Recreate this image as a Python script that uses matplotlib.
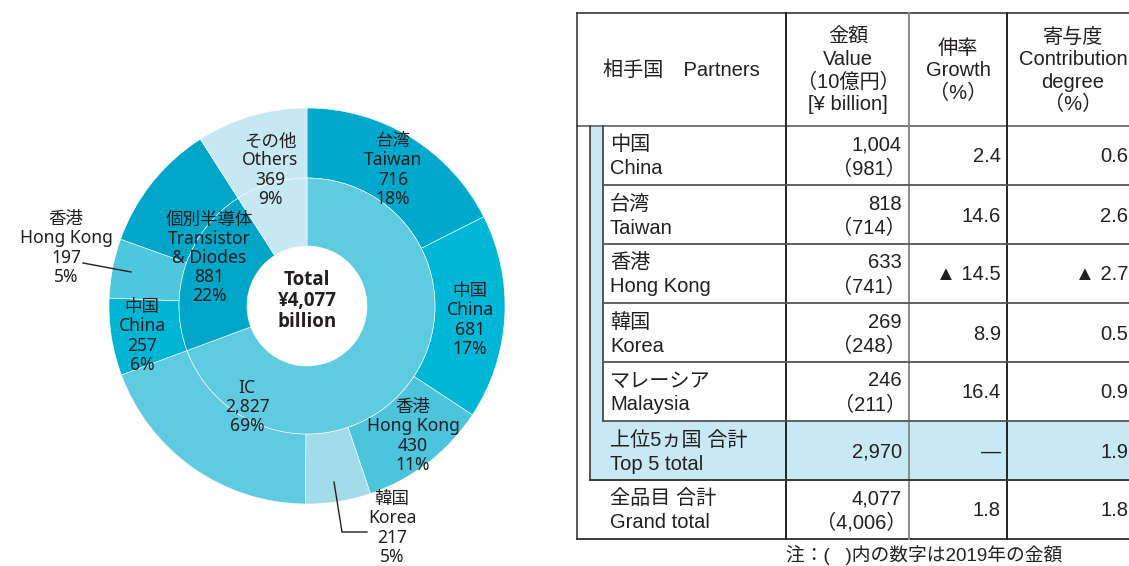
import matplotlib.pyplot as plt
from matplotlib.patches import Rectangle

plt.rcParams['font.family'] = ['Noto Sans', 'Noto Sans CJK JP', 'DejaVu Sans']
TABLE_FONT = ['Liberation Sans', 'Noto Sans CJK JP', 'DejaVu Sans']
INK = '#231F20'

# donut data (10 billion yen units, 2020)
inner_names = ['IC', '個別半導体\nTransistor\n& Diodes', 'その他\nOthers']
inner_values = [2827, 881, 369]
inner_pct = [69, 22, 9]
ic_partners = ['台湾\nTaiwan', '中国\nChina', '香港\nHong Kong', '韓国\nKorea']
ic_values = [716, 681, 430, 217]
ic_pct = [18, 17, 11, 5]
td_partners = ['中国\nChina', '香港\nHong Kong']
td_values = [257, 197]
td_pct = [6, 5]
total = 4077

# table data
partners_jp = ['中国', '台湾', '香港', '韓国', 'マレーシア']
partners_en = ['China', 'Taiwan', 'Hong Kong', 'Korea', 'Malaysia']
value_2020 = ['1,004', '818', '633', '269', '246']
value_2019 = ['981', '714', '741', '248', '211']
growth = ['2.4', '14.6', '▲ 14.5', '8.9', '16.4']
contribution = ['0.6', '2.6', '▲ 2.7', '0.5', '0.9']
top5_row = ['上位5ヵ国 合計', 'Top 5 total', '2,970', '', '—', '1.9']
grand_row = ['全品目 合計', 'Grand total', '4,077', '4,006', '1.8', '1.8']

W, H = 1129, 566
fig = plt.figure(figsize=(W / 100, H / 100), dpi=100)

# ---- donut ----
cx, cy = 307, 306
R, Rm, Rh = 198, 128, 60
dax = fig.add_axes([(cx - 200) / W, (H - cy - 200) / H, 400 / W, 400 / H])

outer_values = (ic_values + [inner_values[0] - sum(ic_values)]
                + td_values + [inner_values[1] - sum(td_values)]
                + [inner_values[2]])
outer_colors = ['#00A9CB', '#00B6D6', '#4CC4DC', '#A2DBEA', '#5FCBE0',
                '#00B4D4', '#4EC6DE', '#00A5C8', '#C6E8F2']
inner_colors = ['#5FCBE0', '#00A5C8', '#C6E8F2']

dax.pie(outer_values, radius=R, colors=outer_colors, startangle=90,
        counterclock=False,
        wedgeprops=dict(width=R - Rm, edgecolor='white', linewidth=0.4))
dax.pie(inner_values, radius=Rm, colors=inner_colors, startangle=90,
        counterclock=False,
        wedgeprops=dict(width=Rm - Rh, edgecolor='white', linewidth=0.4))
dax.set_xlim(-200, 200)
dax.set_ylim(-200, 200)
dax.axis('off')

# overlay axes in pixel coords
ax = fig.add_axes([0, 0, 1, 1])
ax.set_xlim(0, W)
ax.set_ylim(H, 0)
ax.axis('off')

lab = dict(ha='center', va='center', fontsize=12.6, color=INK, linespacing=1.08)
ic_xy = [(393, 170), (470, 320), (413, 436), (392, 528)]
td_xy = [(142, 336), (66, 248)]
inner_xy = [(247, 407), (209, 258), (270, 170)]
for name, v, p, (x, y) in zip(ic_partners, ic_values, ic_pct, ic_xy):
    ax.text(x, y, f'{name}\n{v:,}\n{p}%', **lab)
for name, v, p, (x, y) in zip(td_partners, td_values, td_pct, td_xy):
    ax.text(x, y, f'{name}\n{v:,}\n{p}%', **lab)
for name, v, p, (x, y) in zip(inner_names, inner_values, inner_pct, inner_xy):
    ax.text(x, y, f'{name}\n{v:,}\n{p}%', **lab)

ax.text(cx, 301, f'Total\n¥{total:,}\nbillion', ha='center', va='center',
        fontsize=13.5, fontweight='bold', color=INK, linespacing=1.05,
        family=['Open Sans', 'DejaVu Sans'])

# leader lines
ax.plot([83, 131], [263, 272], color=INK, lw=1)
ax.plot([334, 342, 367], [482, 532, 532], color=INK, lw=1)

# ---- table ----
L, T, B, RR = 577, 13, 539, W
x1, x2, x3 = 786, 909, 1007
hdr = 126
rh = 59
blue = '#C8E9F3'
dark = '#3A3A3A'
gray = '#8A8A8A'

ax.add_patch(Rectangle((590, hdr), 13, rh * 5, color=blue, lw=0))
ax.add_patch(Rectangle((590, hdr + rh * 5), RR - 590, rh, color=blue, lw=0))

ax.plot([L, RR], [T, T], color='#555555', lw=1.4)
ax.plot([L, RR], [hdr, hdr], color='#777777', lw=1.4)
ax.plot([L, RR], [B, B], color=dark, lw=1.4)
ax.plot([L, L], [T, B], color=dark, lw=1.2)
for xv, c in [(x1, '#222222'), (x2, gray), (x3, '#222222')]:
    ax.plot([xv, xv], [T, B], color=c, lw=1.4)
ax.plot([590, 590], [hdr, hdr + rh * 6], color=dark, lw=1.2)
ax.plot([590, RR], [hdr + rh * 6, hdr + rh * 6], color=dark, lw=1.4)
ax.plot([603, 603], [hdr, hdr + rh * 5], color=dark, lw=1.2)
for i in range(1, 6):
    ax.plot([603, RR], [hdr + rh * i] * 2, color='#555555', lw=1.3)

tf = dict(fontsize=14.5, color=INK, family=TABLE_FONT)
ax.text(681, 70, '相手国　Partners', ha='center', va='center', **tf)
ax.text(848, 71, '金額\nValue\n（10億円）\n[¥ billion]', ha='center', va='center',
        linespacing=1.22, **tf)
ax.text(958, 71, '伸率\nGrowth\n（%）', ha='center', va='center',
        linespacing=1.22, **tf)
ax.text(1073, 71, '寄与度\nContribution\ndegree\n（%）', ha='center', va='center',
        linespacing=1.22, **tf)

rows = [[jp, en, v, p, g, c] for jp, en, v, p, g, c in
        zip(partners_jp, partners_en, value_2020, value_2019, growth, contribution)]
rows += [top5_row, grand_row]
for i, (jp, en, v, p, g, c) in enumerate(rows):
    top = hdr + rh * i
    ax.text(610, top + 19, jp, ha='left', va='center', **tf)
    ax.text(610, top + 43, en, ha='left', va='center', **tf)
    if p:
        ax.text(902, top + 19, v, ha='right', va='center', **tf)
        ax.text(906, top + 43, f'（{p}）', ha='right', va='center', **tf)
    else:
        ax.text(902, top + 31, v, ha='right', va='center', **tf)
    ax.text(1001, top + 31, g, ha='right', va='center', **tf)
    ax.text(1128, top + 31, c, ha='right', va='center', **tf)

ax.text(924, 565, '注：(   )内の数字は2019年の金額', ha='center', va='bottom',
        **dict(tf, fontsize=13.5))

fig.savefig('out.png', dpi=100)
